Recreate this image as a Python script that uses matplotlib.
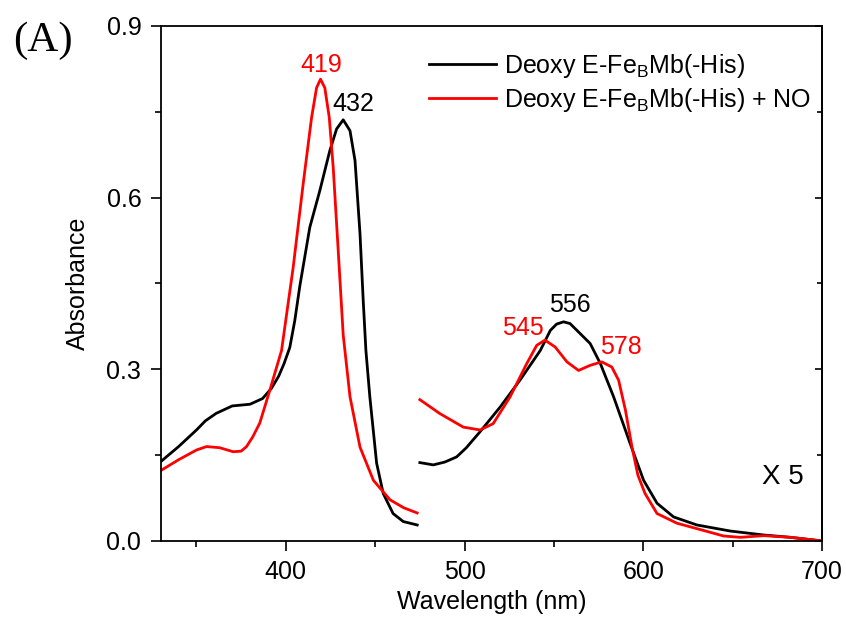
import matplotlib

matplotlib.use("Agg")
import matplotlib.pyplot as plt
from matplotlib.ticker import MultipleLocator

plt.rcParams["font.family"] = ["Liberation Sans", "DejaVu Sans"]
plt.rcParams["mathtext.default"] = "regular"

# Soret region (330-473 nm)
wl_soret_deoxy = [330.5, 340, 350, 355, 361, 370, 380, 387, 392, 396, 399, 402.2, 405, 407.8, 413.4,
                  419, 424.6, 428.4, 432.1, 435.9, 438.7, 441.5, 443.3, 444.8, 447, 450.8, 454.5,
                  460, 465.7, 473.5]
abs_soret_deoxy = [0.140, 0.165, 0.194, 0.210, 0.223, 0.236, 0.239, 0.249, 0.267, 0.288, 0.310, 0.338,
                   0.385, 0.445, 0.548, 0.612, 0.682, 0.720, 0.736, 0.717, 0.665, 0.537, 0.420,
                   0.333, 0.252, 0.136, 0.083, 0.048, 0.034, 0.028]
wl_soret_no = [330.5, 340, 350, 355.6, 363, 370.5, 375, 378, 381.5, 385.4, 391, 397.6, 404.1, 409.7,
               414.4, 417.2, 419.4, 421.8, 424.3, 426.5, 429.3, 432.1, 435.9, 441.5, 449, 458.3,
               466, 473.5]
abs_soret_no = [0.124, 0.142, 0.159, 0.165, 0.163, 0.156, 0.157, 0.165, 0.182, 0.206, 0.263, 0.333,
                0.478, 0.624, 0.740, 0.792, 0.807, 0.792, 0.740, 0.653, 0.508, 0.360, 0.252, 0.164,
                0.106, 0.072, 0.058, 0.049]

# Q-band region (475-700 nm, shown x5)
wl_q_deoxy = [475, 482.5, 489, 495.6, 501, 508.7, 519.9, 531, 542.4, 548, 551.5, 555.4, 559, 562.9,
              570.3, 576, 583.4, 592.7, 600.2, 607.7, 617, 630, 648.7, 667.4, 682.4, 699, 700]
abs_q_deoxy = [0.137, 0.133, 0.138, 0.147, 0.163, 0.191, 0.234, 0.281, 0.333, 0.368, 0.379, 0.383,
               0.380, 0.368, 0.345, 0.310, 0.252, 0.170, 0.106, 0.066, 0.042, 0.028, 0.0174,
               0.0105, 0.0064, 0.0005, 0.0]
wl_q_no = [475, 486, 499.3, 508.7, 516, 525.5, 534.8, 540.4, 545, 550.7, 557.3, 563.8, 570.3, 576.8,
           582.4, 586.2, 590, 593.7, 597, 601, 607.7, 618.9, 631.9, 645, 654.3, 667.4, 682.4, 699, 700]
abs_q_no = [0.247, 0.223, 0.199, 0.194, 0.205, 0.252, 0.310, 0.342, 0.351, 0.339, 0.313, 0.298, 0.307,
            0.313, 0.304, 0.281, 0.229, 0.164, 0.115, 0.083, 0.048, 0.031, 0.020, 0.0087, 0.0064,
            0.0093, 0.0064, 0.0005, 0.0]

# peak labels: (text, wavelength, absorbance, colour)
peak_labels = [("419", 419.6, 0.832, "red"), ("432", 437.7, 0.764, "black"),
               ("556", 559.0, 0.413, "black"), ("545", 532.4, 0.372, "red"),
               ("578", 587.7, 0.339, "red")]

FS = 18
LW = 2.0
fig = plt.figure(figsize=(8.46, 6.18), dpi=100, facecolor="white")
ax = fig.add_axes([0.190, 0.1246, 0.7816, 0.8334])

ax.plot(wl_soret_deoxy, abs_soret_deoxy, color="black", lw=LW, label="Deoxy E-Fe$_B$Mb(-His)")
ax.plot(wl_soret_no, abs_soret_no, color="red", lw=LW, label="Deoxy E-Fe$_B$Mb(-His) + NO")
ax.plot(wl_q_deoxy, abs_q_deoxy, color="black", lw=LW)
ax.plot(wl_q_no, abs_q_no, color="red", lw=LW)

for txt, x, y, c in peak_labels:
    ax.text(x, y, txt, color=c, fontsize=FS, ha="center", va="center")
ax.text(678.0, 0.112, "X 5", fontsize=20, ha="center", va="center")

ax.set_xlim(330, 700)
ax.set_ylim(0, 0.9)
ax.xaxis.set_major_locator(MultipleLocator(100))
ax.xaxis.set_minor_locator(MultipleLocator(50))
ax.yaxis.set_major_locator(MultipleLocator(0.3))
ax.yaxis.set_minor_locator(MultipleLocator(0.15))
ax.yaxis.set_major_formatter(plt.FuncFormatter(lambda v, p: f"{v:.1f}"))
ax.tick_params(axis="both", which="both", direction="out", labelsize=FS, width=1.2, pad=7)
ax.tick_params(which="major", length=7)
ax.tick_params(which="minor", length=4)
for s in ax.spines.values():
    s.set_linewidth(1.3)

# right spine carries short inward ticks
sec = ax.secondary_yaxis("right")
sec.yaxis.set_major_locator(MultipleLocator(0.3))
sec.yaxis.set_minor_locator(MultipleLocator(0.15))
sec.tick_params(which="both", direction="in", labelright=False, width=1.2)
sec.tick_params(which="major", length=5)
sec.tick_params(which="minor", length=3.5)
sec.spines["right"].set_linewidth(1.3)

ax.set_xlabel("Wavelength (nm)", fontsize=FS, labelpad=4)
ax.set_ylabel("Absorbance", fontsize=FS, labelpad=12)

ax.legend(loc="upper left", bbox_to_anchor=(0.405, 0.95), frameon=False, fontsize=FS,
          handlelength=2.7, handletextpad=0.3, labelspacing=0.25, borderpad=0, borderaxespad=0)

fig.text(0.015, 0.934, "(A)", fontsize=31, family="Liberation Serif", ha="left", va="center")

fig.savefig("out.png", dpi=100)
